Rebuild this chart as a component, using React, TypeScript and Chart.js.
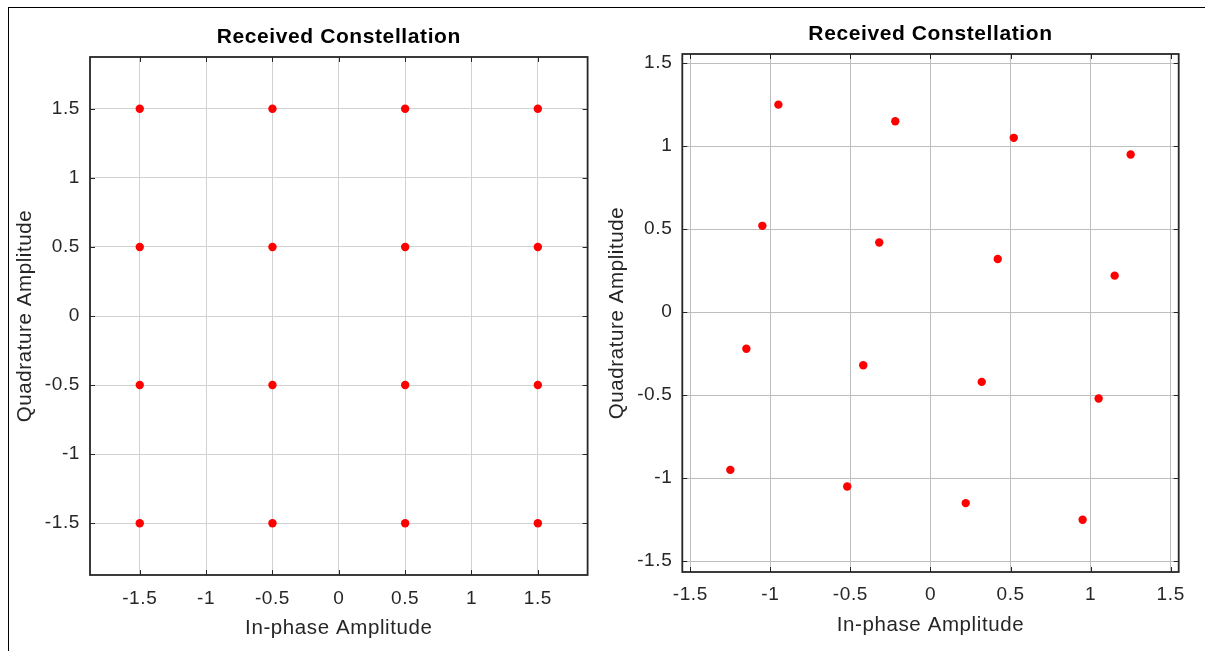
import React, { useEffect, useRef } from 'react';
import { Chart, registerables } from 'chart.js';

Chart.register(...registerables);

// ---------- data ----------
const TITLE = 'Received Constellation';
const X_LABEL = 'In-phase Amplitude';
const Y_LABEL = 'Quadrature Amplitude';

const TICK_VALUES = [-1.5, -1, -0.5, 0, 0.5, 1, 1.5];
const TICK_LABELS = ['-1.5', '-1', '-0.5', '0', '0.5', '1', '1.5'];

// left panel: ideal 16-QAM constellation
const IDEAL_I = [-1.5, -1.5, -1.5, -1.5, -0.5, -0.5, -0.5, -0.5, 0.5, 0.5, 0.5, 0.5, 1.5, 1.5, 1.5, 1.5];
const IDEAL_Q = [1.5, 0.5, -0.5, -1.5, 1.5, 0.5, -0.5, -1.5, 1.5, 0.5, -0.5, -1.5, 1.5, 0.5, -0.5, -1.5];

// right panel: rotated received constellation
const RX_I = [-0.95, -0.22, 0.52, 1.25, -1.05, -0.32, 0.42, 1.15, -1.15, -0.42, 0.32, 1.05, -1.25, -0.52, 0.22, 0.95];
const RX_Q = [1.25, 1.15, 1.05, 0.95, 0.52, 0.42, 0.32, 0.22, -0.22, -0.32, -0.42, -0.52, -0.95, -1.05, -1.15, -1.25];

// ---------- layout / style ----------
const FONT = "'Liberation Sans', Arial, Helvetica, sans-serif";
const TEXT_COLOR = '#262626';
const AXIS_COLOR = '#262626';
const LETTER_SPACING = '0.6px';

type Panel = {
  left: number;
  width: number;
  height: number;
  xs: number[];
  ys: number[];
  xMin: number;
  xMax: number;
  yMin: number;
  yMax: number;
  padRight: number;
  yAxisWidth: number;
  xAxisHeight: number;
  titlePadTop: number;
  titlePadBottom: number;
  yTitlePad: number;
  xTitlePad: number;
  xTickPad: number;
  yTickPad: number;
  gridColor: string;
  gridWidth: number;
};

const PANELS: Panel[] = [
  {
    left: 0, width: 600, height: 651,
    xs: IDEAL_I, ys: IDEAL_Q,
    xMin: -1.875, xMax: 1.875, yMin: -1.875, yMax: 1.875,
    padRight: 12.4, yAxisWidth: 90, xAxisHeight: 76,
    titlePadTop: 24.9, titlePadBottom: 6.9,
    yTitlePad: 13.2, xTitlePad: 10.7, xTickPad: 12.6, yTickPad: 10,
    gridColor: '#d2d2d2', gridWidth: 1,
  },
  {
    left: 600, width: 605, height: 651,
    xs: RX_I, ys: RX_Q,
    xMin: -1.55, xMax: 1.55, yMin: -1.565, yMax: 1.555,
    padRight: 26.3, yAxisWidth: 82.3, xAxisHeight: 79,
    titlePadTop: 21.9, titlePadBottom: 6.9,
    yTitlePad: 5.2, xTitlePad: 13.7, xTickPad: 11.6, yTickPad: 10,
    gridColor: '#bdbdbd', gridWidth: 1,
  },
];

const TICK_LEN = 5;

const boxPlugin = {
  id: 'matlabBox',
  beforeUpdate(chart: any) {
    chart.ctx.letterSpacing = LETTER_SPACING;
  },
  beforeDraw(chart: any) {
    chart.ctx.letterSpacing = LETTER_SPACING;
  },
  afterDraw(chart: any) {
    const { ctx, chartArea } = chart;
    const xs = chart.scales.x;
    const ys = chart.scales.y;
    const { left, right, top, bottom } = chartArea;
    ctx.save();
    ctx.strokeStyle = AXIS_COLOR;
    ctx.lineWidth = 1.8;
    ctx.strokeRect(left, top, right - left, bottom - top);
    ctx.lineWidth = 1;
    ctx.beginPath();
    TICK_VALUES.forEach((v) => {
      const px = Math.round(xs.getPixelForValue(v)) + 0.5;
      ctx.moveTo(px, bottom);
      ctx.lineTo(px, bottom - TICK_LEN);
      ctx.moveTo(px, top);
      ctx.lineTo(px, top + TICK_LEN);
      const py = Math.round(ys.getPixelForValue(v)) + 0.5;
      ctx.moveTo(left, py);
      ctx.lineTo(left + TICK_LEN, py);
      ctx.moveTo(right, py);
      ctx.lineTo(right - TICK_LEN, py);
    });
    ctx.stroke();
    ctx.restore();
  },
};

function ConstellationPanel({ panel }: { panel: Panel }) {
  const ref = useRef<HTMLCanvasElement | null>(null);

  useEffect(() => {
    if (!ref.current) return;
    const data = panel.xs.map((x, i) => ({ x, y: panel.ys[i] }));
    const tickCfg = (pad: number) => ({
      autoSkip: false,
      maxRotation: 0,
      minRotation: 0,
      padding: pad,
      color: TEXT_COLOR,
      font: { family: FONT, size: 19 },
      callback: (_v: any, i: number) => TICK_LABELS[i],
    });
    const chart = new Chart(ref.current, {
      type: 'scatter',
      data: {
        datasets: [
          {
            data,
            pointRadius: 4.2,
            pointHoverRadius: 4.2,
            pointBackgroundColor: '#ff0000',
            pointBorderWidth: 0,
            borderWidth: 0,
          },
        ],
      },
      options: {
        responsive: false,
        animation: false,
        devicePixelRatio: 1,
        events: [],
        layout: { padding: { left: 0, top: 0, right: panel.padRight, bottom: 0 } },
        plugins: {
          legend: { display: false },
          tooltip: { enabled: false },
          title: {
            display: true,
            text: TITLE,
            fullSize: false,
            color: '#000000',
            font: { family: FONT, size: 21, weight: 'bold', lineHeight: 1.2 },
            padding: { top: panel.titlePadTop, bottom: panel.titlePadBottom },
          },
        },
        scales: {
          x: {
            type: 'linear',
            position: 'bottom',
            min: panel.xMin,
            max: panel.xMax,
            afterBuildTicks: (s: any) => {
              s.ticks = TICK_VALUES.map((value) => ({ value }));
            },
            afterFit: (s: any) => {
              s.height = panel.xAxisHeight;
            },
            ticks: tickCfg(panel.xTickPad),
            grid: { color: panel.gridColor, lineWidth: panel.gridWidth, drawTicks: false },
            border: { display: false },
            title: {
              display: true,
              text: X_LABEL,
              color: TEXT_COLOR,
              font: { family: FONT, size: 20.5, lineHeight: 1.2 },
              padding: { top: 0, bottom: panel.xTitlePad },
            },
          },
          y: {
            type: 'linear',
            position: 'left',
            min: panel.yMin,
            max: panel.yMax,
            afterBuildTicks: (s: any) => {
              s.ticks = TICK_VALUES.map((value) => ({ value }));
            },
            afterFit: (s: any) => {
              s.width = panel.yAxisWidth;
            },
            ticks: tickCfg(panel.yTickPad),
            grid: { color: panel.gridColor, lineWidth: panel.gridWidth, drawTicks: false },
            border: { display: false },
            title: {
              display: true,
              text: Y_LABEL,
              color: TEXT_COLOR,
              font: { family: FONT, size: 20.5, lineHeight: 1.2 },
              padding: { top: panel.yTitlePad, bottom: 0 },
            },
          },
        },
      } as any,
      plugins: [boxPlugin as any],
    });
    return () => chart.destroy();
  }, [panel]);

  return (
    <canvas
      ref={ref}
      width={panel.width}
      height={panel.height}
      style={{ position: 'absolute', left: panel.left, top: 0, width: panel.width, height: panel.height, display: 'block' }}
    />
  );
}

export default function App() {
  return (
    <div style={{ position: 'absolute', left: 0, top: 0, width: 1205, height: 651, overflow: 'hidden', background: '#ffffff' }}>
      <div
        style={{
          position: 'absolute',
          left: 8,
          top: 7,
          width: 1300,
          height: 700,
          borderTop: '1px solid #000',
          borderLeft: '1px solid #000',
        }}
      />
      {PANELS.map((p, i) => (
        <ConstellationPanel key={i} panel={p} />
      ))}
    </div>
  );
}
